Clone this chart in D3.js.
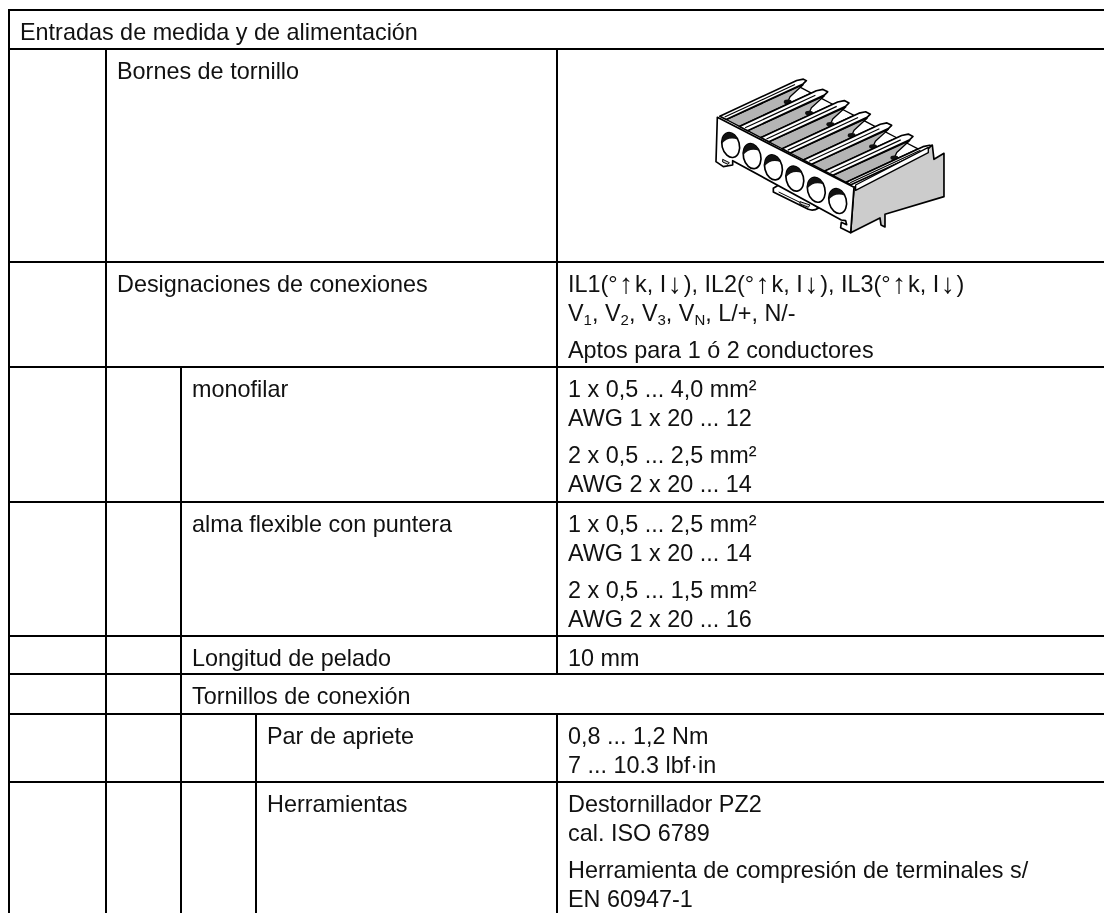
<!DOCTYPE html>
<html>
<head>
<meta charset="utf-8">
<script src="https://cdn.jsdelivr.net/npm/d3@7"></script>
<style>
  html, body { margin: 0; padding: 0; background: #fff; }
  svg { display: block; filter: grayscale(1); }
  text { font-family: "Liberation Sans", Arial, sans-serif; font-size: 23.4px; fill: #111; }
</style>
</head>
<body>
<svg id="table" width="1104" height="913"></svg>
<script>
// textos de la tabla
const rowLabels = [
  "Entradas de medida y de alimentación",
  "Bornes de tornillo",
  "Designaciones de conexiones",
  "monofilar",
  "alma flexible con puntera",
  "Longitud de pelado",
  "Tornillos de conexión",
  "Par de apriete",
  "Herramientas"
];
const rowLevels = [0, 1, 1, 2, 2, 2, 2, 3, 3];
const rowValues = [
  [],
  [],
  [["IL1(°↑k, I↓), IL2(°↑k, I↓), IL3(°↑k, I↓)", "V_1, V_2, V_3, V_N, L/+, N/-"], ["Aptos para 1 ó 2 conductores"]],
  [["1 x 0,5 ... 4,0 mm²", "AWG 1 x 20 ... 12"], ["2 x 0,5 ... 2,5 mm²", "AWG 2 x 20 ... 14"]],
  [["1 x 0,5 ... 2,5 mm²", "AWG 1 x 20 ... 14"], ["2 x 0,5 ... 1,5 mm²", "AWG 2 x 20 ... 16"]],
  [["10 mm"]],
  [],
  [["0,8 ... 1,2 Nm", "7 ... 10.3 lbf·in"]],
  [["Destornillador PZ2", "cal. ISO 6789"], ["Herramienta de compresión de terminales s/", "EN 60947-1"]]
];
const noValueDivider = [true, false, false, false, false, false, true, false, false];

// rejilla
const rowEdges = [10, 49, 262, 367, 502, 636, 674, 714, 782, 913];
const levelEdges = [9, 106, 181, 256];
const valueEdge = 557;
const lineStep = 29.5, paraGap = 36.5, firstBase = 29.5, padX = 11;

const svg = d3.select("#table");
const grid = svg.append("g").attr("stroke", "#000").attr("stroke-width", 2);

rowEdges.slice(0, -1).forEach(y => {
  grid.append("line").attr("x1", 8).attr("x2", 1104).attr("y1", y).attr("y2", y);
});

// líneas verticales, fila por fila
rowLevels.forEach((level, i) => {
  const y1 = rowEdges[i] - 1, y2 = rowEdges[i + 1] + 1;
  for (let l = 0; l <= level; l++) {
    grid.append("line").attr("x1", levelEdges[l]).attr("x2", levelEdges[l]).attr("y1", y1).attr("y2", y2);
  }
  if (!noValueDivider[i]) {
    grid.append("line").attr("x1", valueEdge).attr("x2", valueEdge).attr("y1", y1).attr("y2", y2);
  }
});

// texto con subíndices y flechas
function addRich(sel, str) {
  let pendingDy = 0, pendingDx = 0;
  str.split(/(_\w|[↑↓])/).filter(s => s !== "").forEach(part => {
    if (part[0] === "_") {
      sel.append("tspan").attr("font-size", 15).attr("dy", pendingDy + 4).text(part[1]);
      pendingDy = -4;
    } else if (part === "↑" || part === "↓") {
      sel.append("tspan").style("font-size", "28px").attr("dx", 1.7).attr("dy", 1).text(part);
      pendingDy = -1;
      pendingDx = 1.7;
    } else {
      sel.append("tspan").attr("dx", pendingDx).attr("dy", pendingDy).text(part);
      pendingDy = 0;
      pendingDx = 0;
    }
  });
}

rowLabels.forEach((label, i) => {
  const base = rowEdges[i] + firstBase;
  svg.append("text").attr("x", levelEdges[rowLevels[i]] + padX).attr("y", base).text(label);
  let y = base;
  rowValues[i].forEach((para, p) => {
    if (p > 0) y += paraGap - lineStep;
    para.forEach(line => {
      addRich(svg.append("text").attr("x", valueEdge + padX).attr("y", y), line);
      y += lineStep;
    });
  });
});

// dibujo del borne
const pic = svg.append("g")
  .attr("transform", "translate(680,90) scale(0.3333)")
  .attr("stroke", "#000").attr("stroke-width", 5).attr("stroke-linejoin", "round");
const poly = d3.line();
const origin = [112, 82], uVec = [64, 33.5], vVec = [248, -115];
const iso = (u, v) => [origin[0] + u * uVec[0] + v * vVec[0], origin[1] + u * uVec[1] + v * vVec[1]];
const isoPath = pts => poly(pts.map(p => iso(p[0], p[1]))) + "Z";

// cara lateral gris
pic.append("path").attr("fill", "#ccc").attr("d", poly([
  [522, 296], [512, 428], [600, 384], [603, 405], [615, 411], [615, 373],
  [792, 320], [792, 190], [762, 208], [757, 165], [522, 290]
]) + "Z");

// cara superior
pic.append("path").attr("fill", "#fff").attr("stroke", "none")
  .attr("d", isoPath([[0, 0], [6.3, 0], [6.1, 0.95], [0, 0.95]]));

d3.range(6).forEach(i => {
  // ventana blanca del fondo
  pic.append("path").attr("fill", "#fff").attr("stroke-width", 4)
    .attr("d", isoPath([[i + 0.3, 0.6], [i + 0.92, 0.6], [i + 0.92, 0.9], [i + 0.3, 0.9]]));
  // franja gris con aleta
  pic.append("path").attr("fill", "#b4b4b4").attr("stroke-width", 4)
    .attr("d", isoPath([[i + 0.3, 0.03], [i + 0.92, 0.03], [i + 0.92, 0.6], [i + 0.62, 0.72], [i + 0.34, 0.95]]));
  const dot = iso(i + 0.82, 0.64);
  pic.append("ellipse").attr("fill", "#111").attr("stroke", "none").attr("rx", 12).attr("ry", 7)
    .attr("cx", dot[0]).attr("cy", dot[1]);
});
d3.range(7).forEach(i => {
  // barra blanca con línea central
  const a = Math.max(i - 0.08, 0), b = i === 6 ? 6.15 : i + 0.3;
  pic.append("path").attr("fill", "#fff")
    .attr("d", isoPath([[a, 0.03], [b, 0.03], [b, 0.96], [b - 0.08, 1.02], [a + 0.08, 1.02], [a, 0.96]]));
  pic.append("path").attr("fill", "none").attr("stroke-width", 3.5)
    .attr("d", poly([iso((a + b) / 2, 0.05), iso((a + b) / 2, 0.9)]));
});

// carril delantero derecho
pic.append("path").attr("fill", "#fff").attr("stroke-width", 4)
  .attr("d", poly([[527, 285], [745, 172], [745, 188], [527, 301]]) + "Z");

// pestaña inferior
pic.append("path").attr("fill", "#fff")
  .attr("d", "M296 285 L280 295 L280 306 L385 358 Q400 364 416 354 L340 300 Z");
pic.append("path").attr("fill", "none").attr("stroke-width", 3)
  .attr("d", poly([[296, 306], [378, 346]]));
pic.append("path").attr("fill", "#ccc").attr("stroke-width", 3)
  .attr("d", poly([[360, 335], [390, 345], [385, 352], [360, 342]]) + "Z");

// cara frontal
pic.append("path").attr("fill", "#fff").attr("d", poly([
  [112, 82], [522, 292], [512, 428], [482, 413], [484, 397], [500, 404], [497, 392], [484, 390],
  [158, 212], [158, 225], [130, 230], [108, 215]
]) + "Z");
pic.append("path").attr("fill", "#ccc").attr("stroke-width", 3)
  .attr("d", poly([[128, 208], [148, 218], [144, 223], [128, 216]]) + "Z");

// agujeros
d3.range(6).forEach(i => {
  const cx = 152 + i * 64.2, cy = 165 + i * 33.6;
  const hole = pic.append("g").attr("transform", `translate(${cx},${cy}) rotate(-14)`);
  hole.append("ellipse").attr("rx", 26).attr("ry", 38).attr("fill", "#fff");
  hole.append("path").attr("fill", "#111").attr("stroke", "none")
    .attr("d", "M-25 -10 A26 38 0 0 1 25 -10 Q0 -28 -25 -10 Z");
});
</script>
</body>
</html>
